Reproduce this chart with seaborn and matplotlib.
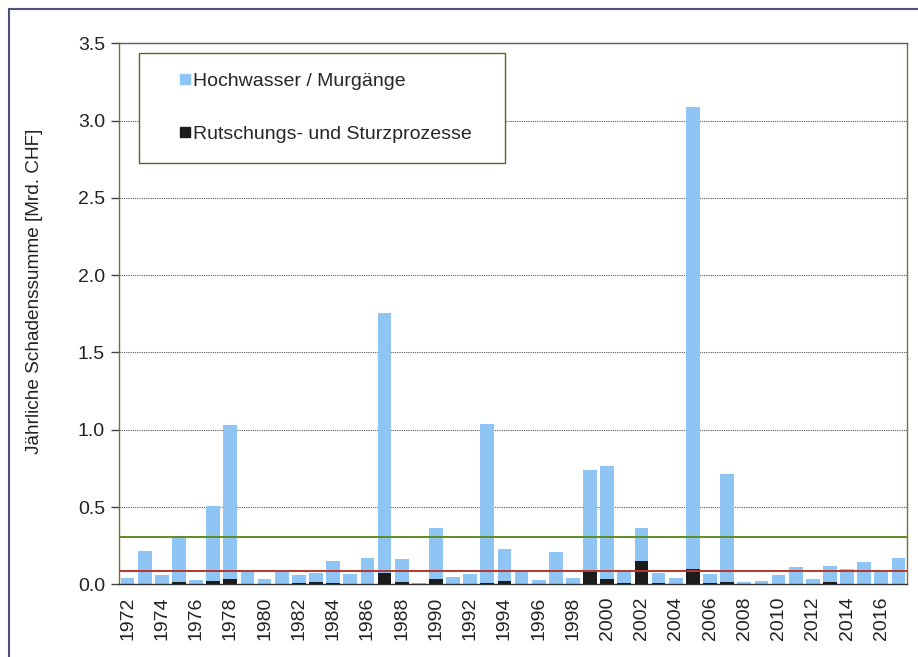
import numpy as np
import pandas as pd
import matplotlib
matplotlib.use("Agg")
import matplotlib.pyplot as plt
import seaborn as sns
from matplotlib.lines import Line2D
from matplotlib.patches import Rectangle

# ---- data ----
years = list(range(1972, 2018))
hochwasser = [0.039, 0.214, 0.058, 0.297, 0.028, 0.484, 1.000, 0.079, 0.034, 0.077,
              0.048, 0.063, 0.144, 0.064, 0.166, 1.680, 0.151, 0.010, 0.332, 0.046,
              0.067, 1.031, 0.207, 0.080, 0.028, 0.208, 0.039, 0.656, 0.731, 0.072,
              0.217, 0.063, 0.038, 2.985, 0.059, 0.697, 0.017, 0.020, 0.058, 0.110,
              0.029, 0.103, 0.092, 0.143, 0.084, 0.166]
rutschung = [0.000, 0.000, 0.000, 0.017, 0.000, 0.020, 0.032, 0.003, 0.000, 0.003,
             0.010, 0.012, 0.008, 0.005, 0.005, 0.075, 0.015, 0.000, 0.034, 0.000,
             0.000, 0.008, 0.024, 0.000, 0.000, 0.000, 0.000, 0.082, 0.037, 0.008,
             0.149, 0.008, 0.005, 0.101, 0.010, 0.017, 0.000, 0.000, 0.000, 0.000,
             0.003, 0.017, 0.005, 0.000, 0.000, 0.005]
line_green = 0.307
line_red = 0.088
yticks = [0.0, 0.5, 1.0, 1.5, 2.0, 2.5, 3.0, 3.5]
label_hw = "Hochwasser / Murgänge"
label_rs = "Rutschungs- und Sturzprozesse"
ylabel = "Jährliche Schadenssumme [Mrd. CHF]"

BLUE = "#8ec5f5"
BLACK = "#1c1c1c"
GREEN = "#5f8c22"
RED = "#b8352a"
OLIVE = "#7d6e33"

df = pd.DataFrame({"Jahr": [str(y) for y in years],
                   "hw": hochwasser, "rs": rutschung})
df["total"] = df["hw"] + df["rs"]

sns.set_style("white")
plt.rcParams["font.family"] = ["Liberation Sans", "DejaVu Sans"]

fig = plt.figure(figsize=(9.18, 6.57), dpi=100)
ax = fig.add_axes([119 / 918, 1 - 584.3 / 657, 788 / 918, 541 / 657])

sns.barplot(data=df, x="Jahr", y="total", color=BLUE, saturation=1, width=0.8,
            linewidth=0, ax=ax, zorder=2)
sns.barplot(data=df, x="Jahr", y="rs", color=BLACK, saturation=1, width=0.8,
            linewidth=0, ax=ax, zorder=3)

ax.axhline(line_green, color=GREEN, lw=1.4, zorder=4)
ax.axhline(line_red, color=RED, lw=1.4, zorder=4)

ax.set_ylim(0, 3.5)
ax.set_xlim(-0.5, len(years) - 0.5)
ax.set_yticks(yticks)
ax.set_yticklabels([f"{v:.1f}" for v in yticks], fontsize=14, color="#222222")
for v in yticks[1:-1]:
    ax.axhline(v, color="#555555", lw=0.8, ls=(0, (1, 1)), zorder=1)

pos = list(range(0, len(years), 2))
ax.set_xticks(pos)
ax.set_xticklabels([str(years[i]) for i in pos], rotation=90, fontsize=14,
                   color="#222222")
ax.set_xticks(np.arange(-0.5, len(years), 1), minor=True)
ax.tick_params(axis="x", which="major", length=0, pad=9)
ax.tick_params(axis="x", which="minor", length=5, width=1, color="#444444",
               direction="out")
ax.tick_params(axis="y", which="major", length=6, width=1, color="#444444",
               direction="out", pad=4, left=True)
ax.set_xlabel("")
ax.set_ylabel(ylabel, fontsize=13.7, color="#222222")
ax.yaxis.set_label_coords((43 - 119) / 788, 0.541)

ax.spines["left"].set_color(OLIVE)
ax.spines["right"].set_color(OLIVE)
ax.spines["top"].set_color("#5a5a6a")
ax.spines["bottom"].set_color("#333333")
for s in ax.spines.values():
    s.set_linewidth(1.0)
    s.set_visible(True)

handles = [Line2D([], [], ls="none", marker="s", markersize=7,
                  markerfacecolor=BLUE, markeredgecolor=BLUE),
           Line2D([], [], ls="none", marker="s", markersize=7,
                  markerfacecolor=BLACK, markeredgecolor=BLACK)]
x0 = (139 - 119) / 788
w = (505 - 139) / 788
y1 = (584.3 - 53) / 541
leg = ax.legend(handles, [label_hw, label_rs], loc="upper left",
                bbox_to_anchor=(x0, y1 - 0.2, w, 0.2), mode="expand",
                fontsize=14, frameon=True, fancybox=False, framealpha=1,
                borderpad=1.0, labelspacing=1.83, handlelength=2.74,
                handletextpad=-0.95, borderaxespad=0)
leg.get_frame().set_edgecolor("#6b5c2c")
leg.get_frame().set_linewidth(1.0)
leg.set_zorder(6)

fig.add_artist(Rectangle((9 / 918, -1), 2, 1 + (1 - 9 / 657), fill=False,
                         edgecolor="#4e527e", lw=1.5, transform=fig.transFigure))

fig.savefig("out.png", dpi=100)
